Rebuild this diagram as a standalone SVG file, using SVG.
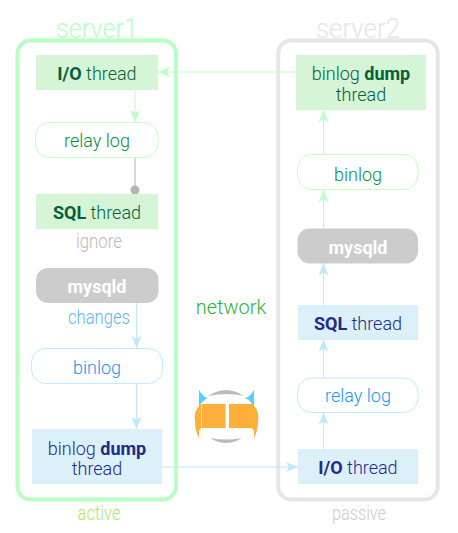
<svg xmlns="http://www.w3.org/2000/svg" width="458" height="533" viewBox="0 0 458 533">
<style>
text{font-family:Roboto,"Liberation Sans",sans-serif;font-weight:300;text-anchor:middle;font-size:18px}
text.note{font-size:20px}
.server{fill:none;stroke-width:4}
.lg{fill:#d6f5d6}.lb{fill:#dcf0fa}
.rg{fill:#fff;stroke:#c4ffc8;stroke-width:1}
.rb{fill:#fff;stroke:#c4e8ff;stroke-width:1}
.gray{fill:#ccc}
.tg{fill:#04603a}.tb{fill:#232a8c}
.tgl{fill:#0a8c48}.tbl{fill:#2196f3}
tspan.b{font-weight:700}
text.tw{fill:#fff;font-weight:700}
text.title{font-size:28px}
.cg{fill:none;stroke:#bcffc6;stroke-width:1;marker-end:url(#ag)}
.cb{fill:none;stroke:#bfe8ff;stroke-width:1;marker-end:url(#ab)}
</style>
<defs>
<marker id="ag" markerUnits="userSpaceOnUse" markerWidth="14" markerHeight="14" refX="12" refY="6" orient="auto"><path d="M12 6L0 1L3 6L0 11Z" fill="#bcffc6"/></marker>
<marker id="ab" markerUnits="userSpaceOnUse" markerWidth="14" markerHeight="14" refX="12" refY="6" orient="auto"><path d="M12 6L0 1L3 6L0 11Z" fill="#bfe8ff"/></marker>
</defs>
<g id="server1"><rect class="server" x="17.500" y="40.500" width="158.500" height="459" rx="13" stroke="#b9ffc4"/><text class="title" x="97" y="38" fill="#b9ffc4" textLength="82" lengthAdjust="spacingAndGlyphs">server1</text><text class="note" x="99" y="520" fill="#aee571" textLength="43" lengthAdjust="spacingAndGlyphs">active</text></g>
<g id="server2"><rect class="server" x="278.200" y="40.500" width="159.500" height="459" rx="13" stroke="#e6e6e6"/><text class="title" x="358" y="38" fill="#e6e6e6" textLength="84" lengthAdjust="spacingAndGlyphs">server2</text><text class="note" x="359" y="520" fill="#ccc" textLength="54" lengthAdjust="spacingAndGlyphs">passive</text></g>
<g id="connectors">
<path class="cg" d="M296 72H158"/>
<path class="cg" d="M135 90V122"/>
<path d="M135 157V190" stroke="#ccc" stroke-width="1.500" fill="none"/><circle cx="135" cy="190" r="4.500" fill="#b5b5b5"/>
<path class="cb" d="M136.500 303V348"/>
<path class="cb" d="M136.500 383.500V429"/>
<path class="cb" d="M162 467H298"/>
<path class="cb" d="M323.500 449V412.500"/>
<path class="cb" d="M323.500 378V339.500"/>
<path class="cb" d="M323.500 305V263.500"/>
<path class="cg" d="M323.500 228.500V190"/>
<path class="cg" d="M323.500 154V110"/>
</g>
<g id="s1-io"><rect class="lg" x="36" y="55" width="122" height="35"/><text class="tg" x="97" y="80"><tspan class="b">I/O</tspan> thread</text></g>
<g id="s1-relay"><rect class="rg" x="35.500" y="122.500" width="122.500" height="35" rx="14"/><text class="tgl" x="97" y="147">relay log</text></g>
<g id="s1-sql"><rect class="lg" x="36" y="194" width="122" height="35"/><text class="tg" x="97" y="219"><tspan class="b">SQL</tspan> thread</text></g>
<text class="note" x="99" y="248" fill="#bbb" textLength="46" lengthAdjust="spacingAndGlyphs">ignore</text>
<g id="s1-mysqld"><rect class="gray" x="36" y="268" width="122.500" height="35" rx="12"/><text class="tw" x="97" y="293">mysqld</text></g>
<text class="note" x="99" y="324" fill="#64b5f6" textLength="62" lengthAdjust="spacingAndGlyphs">changes</text>
<g id="s1-binlog"><rect class="rb" x="31.500" y="348.500" width="131" height="35" rx="14"/><text class="tbl" x="97" y="374">binlog</text></g>
<g id="s1-dump"><rect class="lb" x="32" y="429" width="130" height="55"/><text class="tb" x="97" y="455">binlog <tspan class="b">dump</tspan></text><text class="tb" x="97" y="475">thread</text></g>
<text x="231" y="314" fill="#2fae40" style="font-size:20px">network</text>
<g id="s2-dump"><rect class="lg" x="296" y="55" width="130" height="55"/><text class="tg" x="361" y="80">binlog <tspan class="b">dump</tspan></text><text class="tg" x="361" y="101">thread</text></g>
<g id="s2-binlog"><rect class="rg" x="297.500" y="154.500" width="120.500" height="35" rx="14"/><text class="tgl" x="358" y="181">binlog</text></g>
<g id="s2-mysqld"><rect class="gray" x="297.500" y="228.500" width="120.500" height="35" rx="12"/><text class="tw" x="358" y="254">mysqld</text></g>
<g id="s2-sql"><rect class="lb" x="298" y="305" width="120" height="35"/><text class="tb" x="358" y="330"><tspan class="b">SQL</tspan> thread</text></g>
<g id="s2-relay"><rect class="rb" x="297.500" y="378" width="120.500" height="34.500" rx="14"/><text class="tbl" x="358" y="402">relay log</text></g>
<g id="s2-io"><rect class="lb" x="298" y="449" width="120" height="35"/><text class="tb" x="358" y="474"><tspan class="b">I/O</tspan> thread</text></g>
<g id="icon">
<path d="M208 396Q226 384 244 396Q226 392 208 396Z" fill="#bbb"/>
<path d="M210 438Q226 448 242 438Q226 441 210 438Z" fill="#bbb"/>
<rect x="201.500" y="404" width="24" height="24" fill="#fdaf3c"/><rect x="229" y="404" width="23.500" height="24" fill="#fdaf3c"/>
<path d="M199 390Q203 397 208 398Q201 401 199 408Z" fill="#5ccbff"/><path d="M254 390Q250 397 245 398Q252 401 254 408Z" fill="#5ccbff"/>
<path d="M201 404Q193 411 195 421Q195 431 199 438L199 431L201 428Z" fill="#fdaf3c"/>
<path d="M252 404Q260 411 258 421Q258 431 254 438L254 431L252 428Z" fill="#fdaf3c"/>
</g>
</svg>
